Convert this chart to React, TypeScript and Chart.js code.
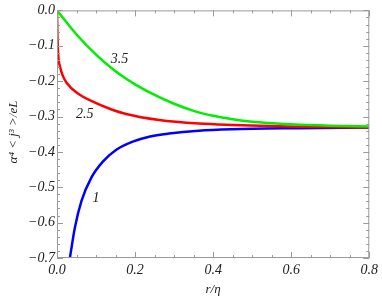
import React, { useEffect, useRef } from "react";
import { Chart, registerables } from "chart.js";

Chart.register(...registerables);

// Curve for index 1 (blue)
const blueR = [0.033, 0.046, 0.063, 0.088, 0.118, 0.152, 0.194, 0.236, 0.287, 0.363, 0.448, 0.617, 0.8];
const blueV = [-0.7, -0.613, -0.538, -0.473, -0.427, -0.394, -0.371, -0.357, -0.348, -0.340, -0.336, -0.333, -0.331];

// Curve for index 2.5 (red)
const redR = [0, 0.001, 0.003, 0.008, 0.015, 0.025, 0.05, 0.092, 0.135, 0.177, 0.262, 0.363, 0.448, 0.617, 0.8];
const redV = [0, -0.07, -0.125, -0.16, -0.185, -0.205, -0.232, -0.258, -0.278, -0.293, -0.31, -0.32, -0.324, -0.329, -0.331];

// Curve for index 3.5 (green)
const greenR = [0, 0.05, 0.1, 0.15, 0.2, 0.25, 0.3, 0.35, 0.4, 0.45, 0.5, 0.6, 0.7, 0.8];
const greenV = [0, -0.068, -0.125, -0.172, -0.209, -0.239, -0.264, -0.284, -0.298, -0.308, -0.315, -0.322, -0.326, -0.328];

// Curve labels (text, r, value)
const curveLabels = ["3.5", "2.5", "1"];
const curveLabelR = [0.16, 0.071, 0.1];
const curveLabelV = [-0.139, -0.293, -0.53];

const xTitle = "r/η";
const yTitle = "α⁴ < j³ >/eL";

const toPts = (r: number[], v: number[]) => r.map((x, i) => ({ x, y: v[i] }));

const FONT = "'Liberation Serif', 'DejaVu Serif', serif";

const framePlugin = {
  id: "framePlugin",
  afterDraw(chart: any) {
    const { ctx, chartArea: a, scales } = chart;
    const xs = scales.x;
    const ys = scales.y;
    ctx.save();
    ctx.strokeStyle = "#9a9a9a";
    ctx.lineWidth = 1;
    ctx.beginPath();
    ctx.rect(a.left + 0.5, a.top + 0.5, a.right - a.left - 1, a.bottom - a.top - 1);
    ctx.stroke();
    ctx.beginPath();
    for (let i = 0; i <= 16; i++) {
      const v = i * 0.05;
      const px = Math.round(xs.getPixelForValue(v)) + 0.5;
      const len = i % 4 === 0 ? 6 : 3;
      ctx.moveTo(px, a.bottom);
      ctx.lineTo(px, a.bottom - len);
      ctx.moveTo(px, a.top);
      ctx.lineTo(px, a.top + len);
    }
    for (let i = 0; i <= 35; i++) {
      const v = -i * 0.02;
      const py = Math.round(ys.getPixelForValue(v)) + 0.5;
      const len = i % 5 === 0 ? 6 : 3;
      ctx.moveTo(a.left, py);
      ctx.lineTo(a.left + len, py);
      ctx.moveTo(a.right, py);
      ctx.lineTo(a.right - len, py);
    }
    ctx.stroke();

    ctx.fillStyle = "#222";
    ctx.font = `italic 14px ${FONT}`;
    ctx.textAlign = "center";
    ctx.textBaseline = "middle";
    curveLabels.forEach((t, i) => {
      ctx.fillText(t, xs.getPixelForValue(curveLabelR[i]), ys.getPixelForValue(curveLabelV[i]));
    });

    ctx.font = `italic 13px ${FONT}`;
    ctx.fillText(xTitle, (a.left + a.right) / 2, 290);
    ctx.translate(14, 132);
    ctx.rotate(-Math.PI / 2);
    ctx.fillText(yTitle, 0, 0);
    ctx.restore();
  },
};

export default function App() {
  const ref = useRef<HTMLCanvasElement | null>(null);
  useEffect(() => {
    document.body.style.margin = "0";
    const canvas = ref.current!;
    const chart = new Chart(canvas, {
      type: "line",
      data: {
        datasets: [
          { data: toPts(greenR, greenV), borderColor: "#00ee00", borderWidth: 2.5, pointRadius: 0, cubicInterpolationMode: "monotone", fill: false },
          { data: toPts(redR, redV), borderColor: "#ff0000", borderWidth: 2.5, pointRadius: 0, cubicInterpolationMode: "monotone", fill: false },
          { data: toPts(blueR, blueV), borderColor: "#0000ff", borderWidth: 2.5, pointRadius: 0, cubicInterpolationMode: "monotone", fill: false },
        ],
      },
      options: {
        animation: false,
        responsive: false,
        maintainAspectRatio: false,
        parsing: false as any,
        layout: { padding: { left: 0, right: 10, top: 7, bottom: 0 } },
        plugins: { legend: { display: false }, tooltip: { enabled: false } },
        scales: {
          x: {
            type: "linear",
            min: 0,
            max: 0.8,
            grid: { display: false, drawTicks: false },
            border: { display: false },
            ticks: {
              stepSize: 0.2,
              padding: 4,
              color: "#222",
              font: { family: FONT, size: 14, style: "italic" },
              callback: (v: any) => Number(v).toFixed(1),
            },
            afterFit: (s: any) => { s.height = 42; },
          },
          y: {
            type: "linear",
            min: -0.7,
            max: 0,
            grid: { display: false, drawTicks: false },
            border: { display: false },
            ticks: {
              stepSize: 0.1,
              padding: 2,
              color: "#222",
              font: { family: FONT, size: 14, style: "italic" },
              callback: (v: any) => {
                const n = Number(v);
                if (Math.abs(n) < 1e-9) return "0.0";
                return "\u2212" + Math.abs(n).toFixed(1);
              },
            },
            afterFit: (s: any) => { s.width = 57; },
          },
        },
      },
      plugins: [framePlugin],
    } as any);
    return () => chart.destroy();
  }, []);
  return (
    <div style={{ width: 382, height: 300 }}>
      <canvas ref={ref} width={382} height={300} style={{ display: "block" }} />
    </div>
  );
}
